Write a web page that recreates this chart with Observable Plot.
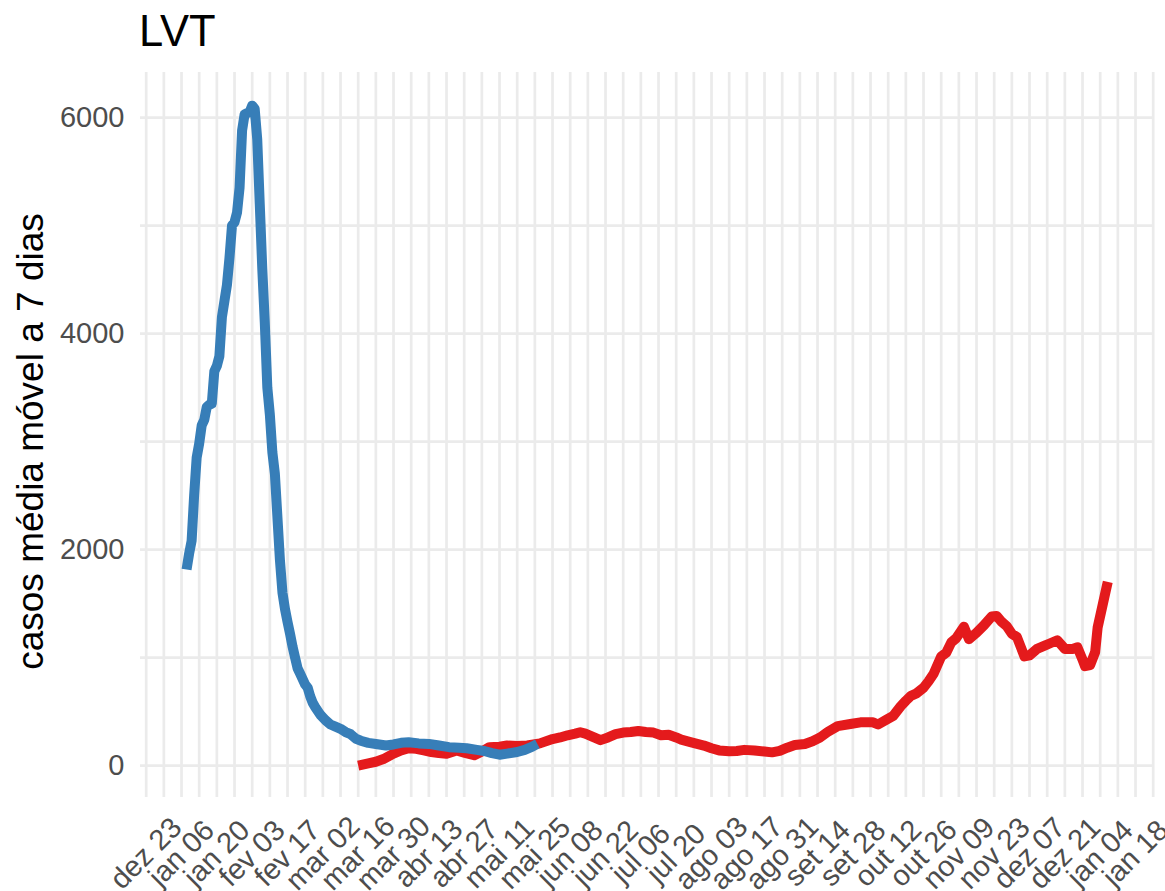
<!DOCTYPE html>
<html><head><meta charset="utf-8">
<script src="https://cdn.jsdelivr.net/npm/d3@7"></script>
<script src="https://cdn.jsdelivr.net/npm/@observablehq/plot@0.6"></script>
<style>body{margin:0;background:#fff;} svg{display:block}</style>
</head><body><div id="chart"></div>
<script>
const title = "LVT";
const yLabel = "casos média móvel a 7 dias";

const blueDates = ["2020-01-08","2020-01-09","2020-01-10","2020-01-11","2020-01-12","2020-01-13","2020-01-14","2020-01-15","2020-01-16","2020-01-17","2020-01-18","2020-01-19","2020-01-20","2020-01-21","2020-01-22","2020-01-23","2020-01-24","2020-01-25","2020-01-26","2020-01-27","2020-01-28","2020-01-29","2020-01-30","2020-01-31","2020-02-01","2020-02-02","2020-02-03","2020-02-04","2020-02-05","2020-02-06","2020-02-07","2020-02-08","2020-02-09","2020-02-10","2020-02-11","2020-02-12","2020-02-13","2020-02-14","2020-02-15","2020-02-16","2020-02-17","2020-02-18","2020-02-19","2020-02-20","2020-02-21","2020-02-22","2020-02-23","2020-02-24","2020-02-25","2020-02-26","2020-02-27","2020-02-28","2020-03-01","2020-03-03","2020-03-05","2020-03-07","2020-03-09","2020-03-11","2020-03-13","2020-03-15","2020-03-17","2020-03-20","2020-03-23","2020-03-27","2020-03-30","2020-04-02","2020-04-05","2020-04-09","2020-04-13","2020-04-17","2020-04-21","2020-04-25","2020-04-28","2020-05-02","2020-05-05","2020-05-08","2020-05-11","2020-05-14","2020-05-18","2020-05-21","2020-05-24","2020-05-26"];
const blueValues = [1815,1960,2080,2500,2850,2980,3150,3200,3320,3340,3350,3650,3700,3790,4150,4300,4450,4700,5000,5030,5120,5350,5880,6030,6040,6050,6110,6080,5800,5200,4600,4100,3500,3250,2900,2700,2300,1900,1600,1450,1330,1220,1100,1000,900,850,800,750,720,640,580,540,470,420,380,360,340,310,290,250,230,210,200,185,195,210,215,205,200,185,170,165,160,145,135,115,100,110,125,145,175,200];

const redDates = ["2020-03-16","2020-03-20","2020-03-23","2020-03-26","2020-03-28","2020-03-30","2020-04-02","2020-04-05","2020-04-08","2020-04-11","2020-04-14","2020-04-17","2020-04-20","2020-04-24","2020-04-27","2020-05-01","2020-05-04","2020-05-07","2020-05-11","2020-05-14","2020-05-18","2020-05-22","2020-05-27","2020-06-01","2020-06-04","2020-06-07","2020-06-10","2020-06-12","2020-06-14","2020-06-17","2020-06-20","2020-06-23","2020-06-26","2020-06-29","2020-07-02","2020-07-05","2020-07-08","2020-07-11","2020-07-14","2020-07-17","2020-07-20","2020-07-22","2020-07-26","2020-07-31","2020-08-03","2020-08-06","2020-08-10","2020-08-13","2020-08-16","2020-08-20","2020-08-24","2020-08-27","2020-08-30","2020-09-02","2020-09-05","2020-09-09","2020-09-12","2020-09-15","2020-09-18","2020-09-22","2020-09-27","2020-10-01","2020-10-06","2020-10-08","2020-10-11","2020-10-14","2020-10-17","2020-10-19","2020-10-21","2020-10-23","2020-10-26","2020-10-28","2020-10-30","2020-11-02","2020-11-04","2020-11-06","2020-11-08","2020-11-10","2020-11-11","2020-11-13","2020-11-16","2020-11-19","2020-11-22","2020-11-24","2020-11-26","2020-11-28","2020-11-30","2020-12-02","2020-12-05","2020-12-07","2020-12-10","2020-12-13","2020-12-15","2020-12-18","2020-12-21","2020-12-24","2020-12-26","2020-12-28","2020-12-29","2020-12-31","2021-01-02","2021-01-03","2021-01-07"];
const redValues = [0,20,35,60,85,110,140,160,155,140,125,115,108,140,120,95,130,170,175,185,180,185,205,245,260,280,295,308,295,265,235,260,290,305,310,320,310,305,280,285,260,240,215,185,160,140,133,135,145,140,130,122,135,165,190,200,225,260,310,365,385,400,400,380,420,460,550,600,645,665,720,780,850,1010,1045,1140,1180,1250,1285,1170,1230,1300,1380,1385,1330,1290,1220,1190,1010,1020,1080,1110,1130,1160,1080,1080,1095,980,920,930,1050,1280,1700];

const tickDates = ["2019-12-23","2020-01-06","2020-01-20","2020-02-03","2020-02-17","2020-03-02","2020-03-16","2020-03-30","2020-04-13","2020-04-27","2020-05-11","2020-05-25","2020-06-08","2020-06-22","2020-07-06","2020-07-20","2020-08-03","2020-08-17","2020-08-31","2020-09-14","2020-09-28","2020-10-12","2020-10-26","2020-11-09","2020-11-23","2020-12-07","2020-12-21","2021-01-04","2021-01-18"];
const tickLabels = ["dez 23","jan 06","jan 20","fev 03","fev 17","mar 02","mar 16","mar 30","abr 13","abr 27","mai 11","mai 25","jun 08","jun 22","jul 06","jul 20","ago 03","ago 17","ago 31","set 14","set 28","out 12","out 26","nov 09","nov 23","dez 07","dez 21","jan 04","jan 18"];
const yTicks = [0, 2000, 4000, 6000];
const yGrid = [0, 1000, 2000, 3000, 4000, 5000, 6000];

const blue = blueDates.map((d, i) => ({date: new Date(d), value: blueValues[i]}));
const red = redDates.map((d, i) => ({date: new Date(d), value: redValues[i]}));
const tickDateObjs = tickDates.map(d => new Date(d));
const labelByTime = new Map(tickDateObjs.map((d, i) => [+d, tickLabels[i]]));
const gridWeeks = d3.utcMonday.range(new Date("2019-12-23"), new Date("2021-01-26"));

const plot = Plot.plot({
  width: 1165, height: 891,
  marginLeft: 140, marginRight: 12, marginTop: 72, marginBottom: 94,
  style: {fontFamily: "'Liberation Sans', Arial, Helvetica, sans-serif", background: "#fff"},
  x: {type: "utc", domain: [new Date("2019-12-20T18:00Z"), new Date("2021-01-25T03:00Z")]},
  y: {domain: [-296, 6417]},
  marks: [
    Plot.ruleX(gridWeeks, {stroke: "#EBEBEB", strokeWidth: 2.7}),
    Plot.ruleY(yGrid, {stroke: "#EBEBEB", strokeWidth: 2.7}),
    Plot.line(red, {x: "date", y: "value", stroke: "#E41A1C", strokeWidth: 10, strokeLinecap: "butt", strokeLinejoin: "round"}),
    Plot.line(blue, {x: "date", y: "value", stroke: "#377EB8", strokeWidth: 10, strokeLinecap: "butt", strokeLinejoin: "round"}),
    Plot.axisY(yTicks, {tickSize: 0, tickPadding: 16, fontSize: 29, fill: "#4D4D4D", label: null, tickFormat: d => String(d)}),
    Plot.axisX(tickDateObjs, {tickSize: 0, tickPadding: 0, tickRotate: -45, textAnchor: "middle", lineAnchor: "middle", dy: 56, fontSize: 29, fill: "#4D4D4D", label: null, tickFormat: d => labelByTime.get(+d)}),
    Plot.text([title], {frameAnchor: "top-left", dx: -1.5, dy: -27, lineAnchor: "bottom", textAnchor: "start", fontSize: 43.5, fill: "#000"}),
    Plot.text([yLabel], {frameAnchor: "left", rotate: -90, dx: -98, dy: 6.5, lineAnchor: "bottom", textAnchor: "middle", fontSize: 37, fill: "#000"})
  ]
});
document.getElementById("chart").appendChild(plot);
</script>
</body></html>
